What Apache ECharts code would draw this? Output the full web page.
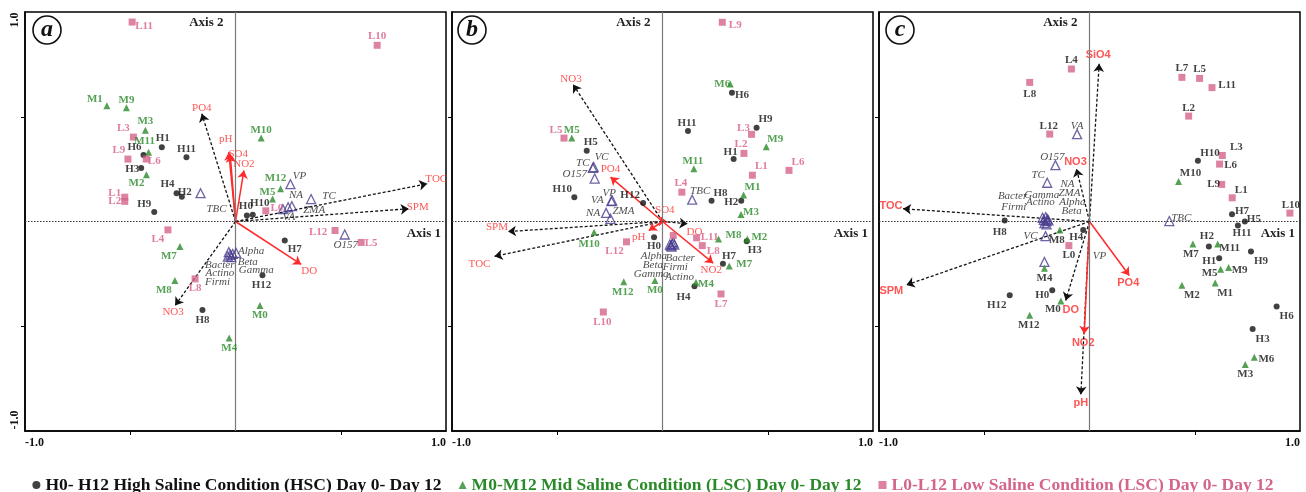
<!DOCTYPE html>
<html><head><meta charset="utf-8">
<script src="https://cdn.jsdelivr.net/npm/echarts@6/dist/echarts.min.js"></script>
<style>html,body{margin:0;padding:0;background:#fff}#c{width:1306px;height:492px}</style>
</head><body><div id="c"></div>
<script>
// ---------- DATA ----------
const A_H = [['H0',0.054,0.029],['H1',-0.35,0.355],['H2',-0.255,0.118],['H3',-0.448,0.255],['H4',-0.28,0.135],['H6',-0.437,0.318],['H7',0.234,-0.091],['H8',-0.157,-0.422],['H9',-0.386,0.045],['H10',0.082,0.032],['H11',-0.233,0.307],['H12',0.128,-0.256]];
const A_M = [['M0',0.116,-0.401],['M1',-0.611,0.553],['M2',-0.423,0.223],['M3',-0.428,0.436],['M4',-0.03,-0.556],['M5',0.176,0.107],['M7',-0.264,-0.119],['M8',-0.288,-0.282],['M9',-0.518,0.543],['M10',0.122,0.398],['M11',-0.413,0.331],['M12',0.214,0.156]];
const A_L = [['L0',0.144,0.051],['L1',-0.526,0.116],['L2',-0.526,0.096],['L3',-0.485,0.403],['L4',-0.321,-0.04],['L5',0.597,-0.1],['L6',-0.424,0.298],['L8',-0.192,-0.274],['L9',-0.511,0.298],['L10',0.673,0.841],['L11',-0.491,0.952],['L12',0.473,-0.043]];
const A_SP = [['VP',0.261,0.178],['NA',0.268,0.073],['ZMA',0.25,0.068],['VA',0.225,0.059],['TC',0.359,0.107],['TBC',-0.166,0.135],['O157',0.519,-0.062],['Alpha',0.003,-0.15],['Beta',-0.013,-0.155],['Gamma',-0.02,-0.17],['Bacter',-0.032,-0.146],['Actino',-0.036,-0.167],['Firmi',-0.024,-0.159]];
const A_ENV = [['PO4',-0.16,0.514],['pH',-0.032,0.331],['SO4',-0.025,0.32],['NO2',0.04,0.244],['TOC',0.911,0.18],['SPM',0.823,0.061],['NO3',-0.287,-0.401],['DO',0.312,-0.205]];

const B_H = [['H0',-0.04,-0.075],['H1',0.338,0.298],['H2',0.374,0.099],['H3',0.4,-0.094],['H4',0.152,-0.309],['H5',-0.36,0.338],['H6',0.33,0.615],['H7',0.287,-0.202],['H8',0.233,0.099],['H9',0.447,0.447],['H10',-0.419,0.116],['H11',0.121,0.432],['H12',-0.092,0.088]];
const B_M = [['M0',-0.036,-0.282],['M1',0.385,0.127],['M2',0.403,-0.083],['M3',0.373,0.033],['M4',0.159,-0.29],['M5',-0.431,0.398],['M6',0.322,0.656],['M7',0.317,-0.212],['M8',0.266,-0.083],['M9',0.493,0.357],['M10',-0.325,-0.051],['M11',0.149,0.252],['M12',-0.184,-0.288]];
const B_L = [['L0',0.051,-0.067],['L1',0.427,0.221],['L2',0.387,0.325],['L3',0.423,0.416],['L4',0.092,0.14],['L5',-0.468,0.398],['L6',0.601,0.244],['L7',0.278,-0.346],['L8',0.189,-0.115],['L9',0.284,0.951],['L10',-0.281,-0.432],['L11',0.162,-0.078],['L12',-0.171,-0.097]];
const B_SP = [['TBC',0.141,0.104],['TC',-0.331,0.256],['VC',-0.327,0.26],['O157',-0.322,0.205],['VP',-0.239,0.1],['VA',-0.243,0.097],['NA',-0.268,0.041],['ZMA',-0.247,0.013],['Alpha',0.035,-0.11],['Beta',0.04,-0.115],['Gamma',0.046,-0.107],['Bacter',0.051,-0.099],['Firmi',0.056,-0.11],['Actino',0.043,-0.12]];
const B_ENV = [['NO3',-0.425,0.654],['PO4',-0.247,0.212],['SO4',-0.008,0.021],['SPM',-0.734,-0.048],['TOC',-0.798,-0.166],['pH',-0.065,-0.043],['DO',0.119,-0.011],['NO2',0.241,-0.199]];

const C_H = [['H0',-0.177,-0.328],['H1',0.616,-0.175],['H2',0.567,-0.119],['H3',0.775,-0.513],['H4',-0.03,-0.04],['H5',0.738,0.0],['H6',0.889,-0.406],['H7',0.677,0.035],['H8',-0.403,0.005],['H9',0.767,-0.143],['H10',0.515,0.29],['H11',0.705,-0.019],['H12',-0.379,-0.352]];
const C_M = [['M0',-0.136,-0.379],['M1',0.597,-0.293],['M2',0.439,-0.304],['M3',0.74,-0.683],['M4',-0.214,-0.223],['M5',0.623,-0.228],['M6',0.783,-0.648],['M7',0.491,-0.107],['M8',-0.141,-0.04],['M9',0.661,-0.22],['M10',0.423,0.191],['M11',0.609,-0.107],['M12',-0.284,-0.447]];
const C_L = [['L0',-0.098,-0.115],['L1',0.678,0.113],['L2',0.471,0.503],['L3',0.631,0.315],['L4',-0.086,0.728],['L5',0.523,0.683],['L6',0.618,0.274],['L7',0.439,0.688],['L8',-0.284,0.664],['L9',0.628,0.177],['L10',0.952,0.04],['L11',0.582,0.639],['L12',-0.189,0.417]];
const C_SP = [['VA',-0.059,0.417],['O157',-0.162,0.269],['TC',-0.201,0.185],['TBC',0.379,0.002],['Bacter',-0.223,0.018],['Firmi',-0.217,0.008],['Gamma',-0.208,0.021],['Actino',-0.2,0.011],['NA',-0.204,0.002],['ZMA',-0.195,0.005],['Alpha',-0.214,-0.008],['Beta',-0.204,-0.014],['VC',-0.209,-0.07],['VP',-0.214,-0.193]];
const C_ENV = [['SiO4',0.046,0.753],['NO3',-0.062,0.252],['TOC',-0.886,0.061],['SPM',-0.87,-0.303],['DO',-0.113,-0.377],['NO2',-0.025,-0.537],['pH',-0.041,-0.826],['PO4',0.189,-0.258]];

const X_TICK_LABELS = [-1, 1];
const LEGEND_NAMES = ['H0- H12 High Saline Condition (HSC) Day 0- Day 12','M0-M12 Mid Saline Condition (LSC) Day 0- Day 12','L0-L12 Low Saline Condition (LSC) Day 0- Day 12'];
const PANEL_LETTERS = ['a','b','c'];

// ---------- STYLE / LAYOUT (not data) ----------
const RED_ARROWS = [['pH','SO4','NO2','DO'],['PO4','SO4','pH','NO2'],['NO2','PO4']];
const A_OFF = {L11:[12,4],L10:[0,-9],M1:[-12,-6],M9:[0,-8],M3:[0,-9],L3:[-10,-9],M11:[-4,-11],H1:[1,-9],H6:[-9,-8],L9:[-9,-9],L6:[8,2],H11:[0,-8],H3:[-9,1],M2:[-10,8],H4:[-9,-9],H2:[3,-5],L1:[-10,-4],L2:[-10,0],H9:[-10,-8],M10:[0,-8],M12:[-5,-11],M5:[-5,-7],H0:[-1,-9],H10:[7,-12],L0:[11,-3],L4:[-10,9],L12:[-17,2],L5:[10,1],H7:[10,9],M7:[-11,10],L8:[0,9],M8:[-11,10],H12:[-1,10],H8:[0,10],M0:[0,10],M4:[0,10],
 VP:[9,-8],NA:[4,-11],ZMA:[26,3],VA:[6,8],TC:[18,-3],TBC:[16,16],O157:[1,11],Alpha:[15,-2],Beta:[15,8],Gamma:[25,13],Bacter:[-9,13],Actino:[-8,17],Firmi:[-13,27],
 PO4:[0,-6],pH:[-3,-13],SO4:[8,0],NO2:[0,-6],TOC:[9,-5],SPM:[9,-2],NO3:[-2,7],DO:[8,7]};
const B_OFF = {L9:[13,3],M6:[-8,0],H6:[10,2],H11:[-1,-8],H9:[9,-9],L3:[-8,-6],M9:[9,-8],L2:[-3,-9],H1:[-3,-7],L6:[9,-8],L1:[9,-9],M11:[-1,-8],M1:[9,-8],H8:[9,-8],H2:[-10,1],L4:[-1,-9],TBC:[8,-9],M3:[10,-2],L5:[-8,-8],M5:[0,-8],H5:[4,-9],TC:[-10,-5],VC:[8,-10],O157:[-20,-4],H10:[-12,-8],VP:[-3,-7],VA:[-14,-1],H12:[-13,-8],NA:[-13,0],ZMA:[13,-8],
 M10:[-5,12],L12:[-12,9],H0:[0,9],Alpha:[-16,12],Beta:[-18,20],Gamma:[-21,30],Bacter:[7,16],Firmi:[1,23],Actino:[8,30],L11:[13,-1],M8:[15,-4],M2:[12,-2],H3:[8,9],L8:[11,6],H7:[6,-8],M7:[15,-2],M12:[-1,10],M0:[0,10],M4:[10,2],H4:[-11,11],L7:[0,10],L10:[-1,10],
 NO3:[-2,-5],PO4:[0,-8],SO4:[4,-7],SPM:[-11,-4],TOC:[-15,8],pH:[-10,7],DO:[7,8],NO2:[-2,7]};
const C_OFF = {L4:[0,-9],L8:[0,12],L7:[0,-9],L5:[0,-9],L11:[15,-2],L2:[0,-8],L12:[-1,-8],VA:[0,-8],H10:[12,-8],L3:[14,-8],L6:[11,1],O157:[-3,-8],M10:[12,-8],L9:[-8,0],TC:[-9,-8],L1:[9,-8],H7:[10,-3],L10:[1,-8],H5:[9,-2],H8:[-5,12],TBC:[12,-3],Bacter:[-30,-22],Firmi:[-30,-13],Gamma:[-4,-22],Actino:[-7,-17],NA:[21,-37],ZMA:[21,-27],Alpha:[28,-21],Beta:[25,-13],VC:[-15,0],VP:[55,-6],M8:[-3,10],H4:[-7,7],L0:[0,10],M7:[-2,10],H2:[-2,-10],M11:[12,4],H9:[10,10],H1:[-10,3],M5:[-11,4],M9:[11,3],M2:[10,10],M1:[10,10],H6:[10,10],H3:[10,10],M6:[12,2],M3:[0,10],M4:[0,10],H12:[-13,10],H0:[-10,5],M0:[-8,8],M12:[-1,10],H11:[4,8],
 SiO4:[-1,-9],NO3:[-1,-7],TOC:[-12,-3],SPM:[-15,6],DO:[5,9],NO2:[-1,9],pH:[0,8],PO4:[-1,7]};

const PANELS = [
  {H:A_H,M:A_M,L:A_L,SP:A_SP,ENV:A_ENV,OFF:A_OFF,left:25},
  {H:B_H,M:B_M,L:B_L,SP:B_SP,ENV:B_ENV,OFF:B_OFF,left:452},
  {H:C_H,M:C_M,L:C_L,SP:C_SP,ENV:C_ENV,OFF:C_OFF,left:879}
];
const GW = 421, GT = 12, GH = 419;
const SERIF = 'Liberation Serif';
const COL = {H:'#111111', M:'#2a8a2a', L:'#d4648a', SP:'#4a3d8f', RED:'#ff2a2a', LBL_M:'#2a8a2a', LBL_L:'#d85c86'};

const chart = echarts.init(document.getElementById('c'), null, {renderer:'canvas'});
const grids = [], xAxes = [], yAxes = [], series = [], graphics = [];

function pts(arr, off, lblStyle) {
  return arr.map(([n,x,y]) => {
    const o = off[n];
    return {name:n, value:[x,y], label: o ? Object.assign({show:true, offset:o, formatter:'{b}'}, lblStyle) : {show:false}};
  });
}

PANELS.forEach((p, i) => {
  grids.push({left:p.left, top:GT, width:GW, height:GH, show:true, borderColor:'#000', borderWidth:1.5, backgroundColor:'#fff'});
  const axisCommon = {type:'value', min:-1, max:1, interval:0.5, gridIndex:i,
    axisLine:{show:true, onZero:false, lineStyle:{color:'#000', width:1.5}},
    axisTick:{show:true, length:4, customValues:[-0.5,0.5], lineStyle:{color:'#000', width:1}},
    splitLine:{show:false}};
  xAxes.push(Object.assign({}, axisCommon, {
    axisLabel:{show:true, customValues:X_TICK_LABELS, formatter:v => v.toFixed(1), margin:6,
      fontFamily:SERIF, fontWeight:'bold', fontSize:12, color:'#111', alignMinLabel:'left', alignMaxLabel:'right'}
  }));
  yAxes.push(Object.assign({}, axisCommon, {axisLabel:{show:false}}));

  const sampleLbl = (c) => ({position:'inside', color:c, fontFamily:SERIF, fontWeight:'bold', fontSize:11});
  const isC = i === 2;
  const base = {type:'scatter', xAxisIndex:i, yAxisIndex:i, silent:true, animation:false};

  const red = RED_ARROWS[i];
  const envLbl = isC
    ? {position:'inside', color:COL.RED, fontFamily:'Liberation Sans', fontWeight:'bold', fontSize:11}
    : {position:'inside', color:COL.RED, fontFamily:SERIF, fontSize:11};
  const envK = p.ENV.filter(e => red.indexOf(e[0]) < 0);
  const envR = p.ENV.filter(e => red.indexOf(e[0]) >= 0);
  series.push(Object.assign({}, base, {name:'envK'+i, symbolSize:0, z:3, data:pts(envK, p.OFF, envLbl),
    markLine:{silent:true, animation:false, symbol:['none','arrow'], symbolSize:8, label:{show:false},
      lineStyle:{color:'#111', type:[3,2], width:1.3},
      data: envK.map(e => [{coord:[0,0]},{coord:[e[1],e[2]]}])}}));
  series.push(Object.assign({}, base, {name:'envR'+i, symbolSize:0, z:4, data:pts(envR, p.OFF, envLbl),
    markLine:{silent:true, animation:false, symbol:['none','arrow'], symbolSize:8, label:{show:false},
      lineStyle:{color:COL.RED, type:'solid', width:1.5},
      data: envR.map(e => [{coord:[0,0]},{coord:[e[1],e[2]]}])}}));

  series.push(Object.assign({}, base, {name:'sp'+i, symbol:'triangle', symbolSize:9, z:5,
    itemStyle:{color:'rgba(255,255,255,0)', borderColor:COL.SP, borderWidth:1.3},
    data:pts(p.SP, p.OFF, {position:'inside', color:'#222', fontFamily:SERIF, fontStyle:'italic', fontSize:11}),
    markLine:{silent:true, animation:false, symbol:['none','none'], label:{show:false},
      lineStyle:{color:'#7a7a7a', type:'solid', width:1.2}, data:[{xAxis:0}]}}));

  series.push(Object.assign({}, base, {name:LEGEND_NAMES[0], symbol:'circle', symbolSize:6, z:6,
    itemStyle:{color:COL.H}, data:pts(p.H, p.OFF, sampleLbl('#111')),
    markLine:{silent:true, animation:false, symbol:['none','none'], label:{show:false},
      lineStyle:{color:'#333', type:[1.5,1.5], width:1.2}, data:[{yAxis:0}]}}));
  series.push(Object.assign({}, base, {name:LEGEND_NAMES[1], symbol:'triangle', symbolSize:7, z:6,
    itemStyle:{color:COL.M}, data:pts(p.M, p.OFF, sampleLbl(isC ? '#111' : COL.LBL_M))}));
  series.push(Object.assign({}, base, {name:LEGEND_NAMES[2], symbol:'rect', symbolSize:7, z:6,
    itemStyle:{color:COL.L}, data:pts(p.L, p.OFF, sampleLbl(isC ? '#111' : COL.LBL_L))}));

  const cx = p.left + GW/2;
  graphics.push({type:'text', x:cx-12, y:GT+11, z:10, style:{text:'Axis 2', font:'bold 13px '+SERIF, fill:'#222', textAlign:'right', textVerticalAlign:'middle'}});
  graphics.push({type:'text', x:p.left+GW-5, y:GT+GH/2+12, z:10, style:{text:'Axis 1', font:'bold 13px '+SERIF, fill:'#222', textAlign:'right', textVerticalAlign:'middle'}});
  const lx = [47,472,900][i];
  graphics.push({type:'circle', shape:{cx:lx, cy:30, r:14}, z:10, style:{fill:'#fff', stroke:'#111', lineWidth:1.6}});
  graphics.push({type:'text', x:lx, y:30, z:11, style:{text:PANEL_LETTERS[i], font:'italic bold 24px '+SERIF, fill:'#111', textAlign:'center', textVerticalAlign:'middle'}});
});

graphics.push({type:'text', x:15, y:20, rotation:Math.PI/2, style:{text:'1.0', font:'bold 12px '+SERIF, fill:'#111', textAlign:'center', textVerticalAlign:'middle'}});
graphics.push({type:'text', x:15, y:420, rotation:Math.PI/2, style:{text:'-1.0', font:'bold 12px '+SERIF, fill:'#111', textAlign:'center', textVerticalAlign:'middle'}});

chart.setOption({
  animation:false,
  backgroundColor:'#fff',
  grid:grids, xAxis:xAxes, yAxis:yAxes, series:series, graphic:graphics,
  legend:{
    left:'center', top:471, itemWidth:8, itemHeight:8, itemGap:17, selectedMode:false,
    textStyle:{fontFamily:SERIF, fontWeight:'bold', fontSize:17.5},
    data:[
      {name:LEGEND_NAMES[0], icon:'circle', textStyle:{color:'#111'}},
      {name:LEGEND_NAMES[1], icon:'triangle', textStyle:{color:'#2a8a2a'}},
      {name:LEGEND_NAMES[2], icon:'rect', textStyle:{color:'#d4648a'}}
    ]
  }
});
</script>
</body></html>
